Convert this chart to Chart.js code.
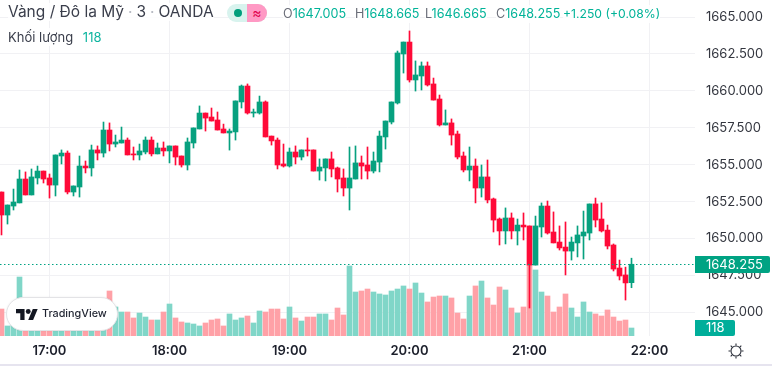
<!DOCTYPE html>
<html lang="vi">
<head>
<meta charset="utf-8">
<title>Vàng / Đô la Mỹ</title>
<style>
  html, body { margin: 0; padding: 0; background: #fff; }
  body { width: 772px; height: 366px; overflow: hidden; font-family: Inter, "Noto Sans", sans-serif; }
  #wrap { position: relative; width: 772px; height: 364px; border-bottom: 2px solid #e6e4ef; }
  #chart { position: absolute; left: 0; top: 0; }
  .txt { position: absolute; white-space: nowrap; line-height: 18px; background: rgba(255,255,255,0.85); }
  .title { left: 8px; top: 3px; font-size: 15.5px; color: #3a3e4b; }
  .title i { font-style: normal; color: #b5b8c0; margin: 0 4px; }
  .vol { left: 8px; top: 28px; font-size: 13px; color: #3a3e4b; }
  .vol b { font-weight: 400; color: #0fb5a0; margin-left: 6px; }
  .ohlc { top: 5px; font-size: 12.6px; color: #00b398; }
  .ohlc em { font-style: normal; color: #6a6d78; }
  #pill { position: absolute; left: 227px; top: 4px; width: 40px; height: 18px; border-radius: 9px; overflow: hidden; background: #d8f3ee; }
  #pill span { position: absolute; left: 7px; top: 5px; width: 8px; height: 8px; border-radius: 50%; background: #009e7c; }
  #pill b { position: absolute; left: 20px; top: 0; width: 20px; height: 18px; background: #ff99c4; color: #e0004d; font: 400 14px/17px Inter, sans-serif; text-align: center; }
  #tv { position: absolute; left: 6px; top: 297px; width: 110px; height: 32px; border: 1px solid #e3e3e6; border-radius: 17px; background: #fff; box-shadow: 0 0 2px rgba(0,0,0,0.08); }
  #tv svg { position: absolute; left: 9px; top: 11px; }
  #tv span { position: absolute; left: 35px; top: 7px; font-size: 10.8px; line-height: 18px; font-weight: 500; color: #1f2330; }
  #sun { position: absolute; left: 726px; top: 341px; }
</style>
</head>
<body>
<div id="wrap">
  <canvas id="chart" width="772" height="364"></canvas>
  <div class="txt title">Vàng / Đô la Mỹ<i>·</i>3<i>·</i>OANDA</div>
  <div class="txt vol">Khối lượng <b>118</b></div>
  <div id="pill"><span></span><b>≈</b></div>
  <div class="txt ohlc" style="left:283px"><em>O</em>1647.005</div>
  <div class="txt ohlc" style="left:355px"><em>H</em>1648.665</div>
  <div class="txt ohlc" style="left:425px"><em>L</em>1646.665</div>
  <div class="txt ohlc" style="left:496px"><em>C</em>1648.255</div>
  <div class="txt ohlc" style="left:563px;font-size:12.2px">+1.250 (+0.08%)</div>
  <div id="tv">
    <svg width="22" height="11" viewBox="0 0 36 18"><path fill="#131722" d="M14 18H7V7H0V0h14v18zM28 18h-8L27.5 0h8L28 18z"/><circle fill="#131722" cx="20" cy="4" r="4"/></svg>
    <span>TradingView</span>
  </div>
  <svg id="sun" width="20" height="20" viewBox="0 0 20 20" fill="none" stroke="#2a2e39" stroke-width="1.1">
    <circle cx="10" cy="10" r="5"/>
    <path d="M10 2.5v2M10 15.5v2M2.5 10h2M15.5 10h2M4.7 4.7l1.4 1.4M13.9 13.9l1.4 1.4M4.7 15.3l1.4-1.4M13.9 6.1l1.4-1.4"/>
  </svg>
</div>

<script src="https://cdn.jsdelivr.net/npm/chart.js@4/dist/chart.umd.min.js"></script>
<script>
// 3 minute candles, 16:36 to 21:51
const candleTimes = [
  "16:36","16:39","16:42","16:45","16:48","16:51","16:54","16:57","17:00","17:03",
  "17:06","17:09","17:12","17:15","17:18","17:21","17:24","17:27","17:30","17:33",
  "17:36","17:39","17:42","17:45","17:48","17:51","17:54","17:57","18:00","18:03",
  "18:06","18:09","18:12","18:15","18:18","18:21","18:24","18:27","18:30","18:33",
  "18:36","18:39","18:42","18:45","18:48","18:51","18:54","18:57","19:00","19:03",
  "19:06","19:09","19:12","19:15","19:18","19:21","19:24","19:27","19:30","19:33",
  "19:36","19:39","19:42","19:45","19:48","19:51","19:54","19:57","20:00","20:03",
  "20:06","20:09","20:12","20:15","20:18","20:21","20:24","20:27","20:30","20:33",
  "20:36","20:39","20:42","20:45","20:48","20:51","20:54","20:57","21:00","21:03",
  "21:06","21:09","21:12","21:15","21:18","21:21","21:24","21:27","21:30","21:33",
  "21:36","21:39","21:42","21:45","21:48","21:51"
];

const opens = [
  1653.15,1651.59,1652.20,1652.41,1654.03,1652.95,1654.10,1654.57,1654.10,1653.62,
  1655.59,1655.79,1653.15,1653.49,1654.91,1654.78,1656.00,1655.79,1657.35,1656.40,
  1656.47,1656.67,1655.73,1655.66,1655.86,1656.67,1655.73,1656.13,1655.93,1656.27,
  1655.59,1654.98,1656.47,1657.42,1658.50,1658.23,1658.03,1657.42,1657.15,1657.22,
  1659.25,1660.33,1658.50,1658.50,1659.25,1656.94,1656.67,1655.05,1654.91,1655.86,
  1655.52,1656.00,1656.00,1654.57,1654.78,1655.39,1654.78,1654.10,1653.42,1654.03,
  1655.12,1654.98,1654.57,1655.18,1656.88,1657.89,1659.18,1662.50,1663.31,1660.74,
  1661.01,1661.69,1660.47,1659.45,1657.69,1657.83,1657.08,1655.59,1654.64,1654.91,
  1653.42,1654.17,1652.68,1651.32,1650.51,1651.39,1650.51,1650.91,1650.85,1648.20,
  1650.78,1652.20,1650.44,1649.76,1649.42,1649.15,1649.70,1650.17,1650.37,1652.34,
  1651.32,1650.57,1649.56,1648.00,1647.53,1647.005
];

const highs = [
  1653.15,1652.27,1653.35,1654.64,1654.51,1654.71,1654.91,1654.57,1654.37,1655.66,
  1656.00,1655.93,1653.56,1655.59,1655.25,1656.33,1656.27,1657.89,1657.83,1657.01,
  1657.55,1656.81,1656.20,1656.40,1656.88,1656.88,1656.47,1656.54,1656.27,1656.27,
  1655.59,1656.81,1657.49,1658.98,1658.50,1658.84,1658.57,1657.75,1657.42,1659.32,
  1660.40,1660.47,1658.77,1659.65,1659.32,1656.94,1656.81,1656.40,1656.13,1656.27,
  1656.00,1656.81,1656.00,1655.39,1655.39,1655.86,1654.84,1654.71,1656.20,1656.27,
  1655.59,1656.20,1655.86,1657.28,1657.96,1659.25,1662.70,1663.31,1664.06,1662.03,
  1661.96,1661.96,1660.87,1659.72,1658.71,1658.10,1657.28,1655.86,1656.20,1655.39,
  1654.98,1655.32,1652.74,1651.39,1652.07,1651.73,1651.32,1651.73,1650.85,1651.52,
  1652.41,1652.54,1651.80,1650.85,1651.12,1650.10,1650.85,1651.86,1652.34,1652.74,
  1652.41,1650.91,1649.63,1648.54,1648.06,1648.665
];

const lows = [
  1650.24,1650.98,1651.93,1652.41,1652.95,1652.95,1653.69,1653.76,1652.74,1652.88,
  1655.05,1653.02,1652.88,1652.81,1654.44,1654.23,1655.32,1655.52,1655.93,1656.20,
  1656.47,1655.66,1655.32,1655.32,1655.73,1655.59,1655.73,1655.59,1655.12,1654.98,
  1654.84,1654.64,1656.13,1657.42,1657.28,1657.96,1657.35,1657.15,1655.99,1656.67,
  1658.84,1658.43,1658.23,1658.43,1656.88,1656.33,1654.71,1654.84,1654.84,1655.05,
  1655.32,1655.59,1654.57,1653.96,1653.90,1654.17,1653.15,1652.88,1651.93,1654.03,
  1654.03,1654.03,1654.44,1654.51,1656.06,1657.76,1659.11,1661.21,1660.60,1659.99,
  1660.06,1660.33,1659.38,1657.62,1657.69,1656.33,1655.39,1654.51,1653.90,1652.41,
  1652.81,1652.41,1650.44,1649.56,1649.63,1649.97,1649.56,1649.90,1645.29,1648.20,
  1650.10,1650.30,1649.70,1649.22,1647.53,1648.54,1648.75,1648.61,1649.90,1650.78,
  1650.44,1649.29,1647.80,1647.19,1645.83,1646.665
];

const closes = [
  1651.59,1652.27,1652.47,1654.03,1652.95,1654.17,1654.57,1654.03,1653.62,1655.66,
  1655.79,1653.15,1653.56,1654.91,1654.78,1656.00,1655.79,1657.35,1656.40,1656.54,
  1656.67,1655.66,1655.66,1655.93,1656.67,1655.73,1656.13,1655.93,1656.27,1655.52,
  1654.98,1656.54,1657.49,1658.50,1658.16,1657.96,1657.35,1657.15,1657.28,1659.32,
  1660.33,1658.50,1658.57,1659.25,1656.88,1656.61,1654.98,1654.91,1655.86,1655.52,
  1656.00,1655.93,1654.57,1654.84,1655.39,1654.71,1654.03,1653.42,1654.10,1655.12,
  1654.91,1654.57,1655.25,1656.94,1657.96,1659.25,1662.57,1663.31,1660.74,1661.08,
  1661.69,1660.40,1659.38,1657.69,1657.83,1657.01,1655.52,1654.64,1654.91,1653.42,
  1654.17,1652.61,1651.25,1650.51,1651.39,1650.51,1650.91,1650.78,1648.20,1650.85,
  1652.20,1650.37,1649.70,1649.36,1649.15,1649.76,1650.24,1650.44,1652.34,1651.25,
  1650.51,1649.49,1647.93,1647.46,1646.99,1648.255
];

// bars behind the TradingView badge are hidden in the reference, those are estimates
const volumes = [
  398,148,162,870,260,230,250,300,240,290,
  220,310,230,260,240,280,270,240,664,428,
  354,354,266,339,280,236,236,354,472,266,
  207,192,177,148,192,236,251,148,325,236,
  266,295,192,369,354,398,398,251,428,266,
  221,280,280,325,325,236,413,310,1033,649,
  664,693,649,620,605,664,693,738,693,782,
  634,502,575,590,590,561,339,251,590,738,
  811,561,457,723,679,413,339,428,1047,974,
  649,590,354,428,620,413,280,502,354,325,
  295,384,280,221,236,118
];

const priceTicks = [1645, 1647.5, 1650, 1652.5, 1655, 1657.5, 1660, 1662.5, 1665];
const timeTicks = ["17:00", "18:00", "19:00", "20:00", "21:00", "22:00"];

const GREEN = '#07a17f';
const RED = '#ff0a38';
const VOL_GREEN = '#80d6c8';
const VOL_RED = '#ffa1a7';
const GRID = '#f1f1f4';
const AXIS_RIGHT_WIDTH = 77;
const TIME_AXIS_HEIGHT = 28;

function toMinutes(label) {
  const parts = label.split(':');
  return Number(parts[0]) * 60 + Number(parts[1]);
}

function toLabel(minutes) {
  const m = String(minutes % 60).padStart(2, '0');
  return `${Math.floor(minutes / 60)}:${m}`;
}

const xs = candleTimes.map(toMinutes);
const isUp = closes.map((c, i) => c >= opens[i]);

// zero out the label padding so the plot area runs to the canvas edges
function noPadding(scale) {
  scale.paddingLeft = scale.paddingRight = scale.paddingTop = scale.paddingBottom = 0;
}

function lastPriceY(chart) {
  const lastClose = closes[closes.length - 1];
  return Math.round(chart.scales.y.getPixelForValue(lastClose) - 0.5) + 0.5;
}

// dotted last price line and the two value tags on the right axis
const lastValuePlugin = {
  id: 'lastValue',
  afterDatasetsDraw(chart) {
    const { ctx, chartArea } = chart;
    const y = lastPriceY(chart);

    ctx.save();
    ctx.strokeStyle = '#00a383';
    ctx.lineWidth = 1;
    ctx.setLineDash([1.5, 2.5]);
    ctx.beginPath();
    ctx.moveTo(chartArea.left, y);
    ctx.lineTo(chartArea.right, y);
    ctx.stroke();
    ctx.restore();
  },
  afterDraw(chart) {
    const { ctx, chartArea } = chart;
    const y = lastPriceY(chart);

    ctx.save();
    ctx.font = '13px Inter, sans-serif';
    ctx.textBaseline = 'middle';
    ctx.textAlign = 'left';

    ctx.fillStyle = '#00a383';
    ctx.beginPath();
    ctx.roundRect(chartArea.right, y - 8.5, 75, 17, [0, 2, 2, 0]);
    ctx.fill();
    ctx.fillStyle = '#fff';
    ctx.fillText(closes[closes.length - 1].toFixed(3), chartArea.right + 11, y + 0.5);

    ctx.fillStyle = '#00ae9a';
    ctx.beginPath();
    ctx.roundRect(chartArea.right, chartArea.bottom - 16, 40, 16, [0, 2, 2, 0]);
    ctx.fill();
    ctx.fillStyle = '#fff';
    ctx.fillText(String(volumes[volumes.length - 1]), chartArea.right + 11, chartArea.bottom - 7.5);
    ctx.restore();
  }
};

new Chart(document.getElementById('chart'), {
  type: 'bar',
  data: {
    datasets: [
      {
        label: 'Thân nến',
        data: xs.map((x, i) => ({ x, y: [opens[i], closes[i]] })),
        backgroundColor: isUp.map(up => (up ? GREEN : RED)),
        barThickness: 5,
        yAxisID: 'y',
        order: 1
      },
      {
        label: 'Bóng nến',
        data: xs.map((x, i) => ({ x, y: [lows[i], highs[i]] })),
        backgroundColor: isUp.map(up => (up ? GREEN : RED)),
        barThickness: 1,
        yAxisID: 'y',
        order: 2
      },
      {
        label: 'Khối lượng',
        data: xs.map((x, i) => ({ x, y: volumes[i] })),
        backgroundColor: isUp.map(up => (up ? VOL_GREEN : VOL_RED)),
        barThickness: 5,
        yAxisID: 'yVol',
        order: 3
      }
    ]
  },
  options: {
    responsive: false,
    animation: false,
    events: [],
    layout: { padding: 0 },
    datasets: { bar: { grouped: false } },
    plugins: { legend: { display: false }, tooltip: { enabled: false }, title: { display: false } },
    scales: {
      x: {
        type: 'linear',
        offset: false,
        // 2 px per minute, plot area is 695 px wide
        min: 995.25,
        max: 1342.75,
        border: { display: false },
        grid: { offset: false, color: GRID, drawTicks: false },
        afterBuildTicks(scale) {
          scale.ticks = timeTicks.map(t => ({ value: toMinutes(t) }));
        },
        afterFit(scale) {
          scale.height = TIME_AXIS_HEIGHT;
          noPadding(scale);
        },
        ticks: {
          autoSkip: false,
          maxRotation: 0,
          padding: 7,
          color: '#1c1f2b',
          font: { family: 'Inter', size: 13, weight: '600' },
          callback: value => toLabel(value)
        }
      },
      y: {
        position: 'right',
        // 14.76 px per dollar, 1645 sits 23.7 px above the plot bottom
        min: 1643.394,
        max: 1666.158,
        border: { display: false },
        grid: { color: GRID, drawTicks: false },
        afterBuildTicks(scale) {
          scale.ticks = priceTicks.map(value => ({ value }));
        },
        afterFit(scale) {
          scale.width = AXIS_RIGHT_WIDTH;
          noPadding(scale);
        },
        ticks: {
          autoSkip: false,
          padding: 11,
          color: '#33363f',
          font: { family: 'Inter', size: 13 },
          callback: value => value.toFixed(3)
        }
      },
      yVol: {
        display: false,
        position: 'right',
        min: 0,
        max: 4956
      }
    }
  },
  plugins: [lastValuePlugin]
});
</script>
</body>
</html>
